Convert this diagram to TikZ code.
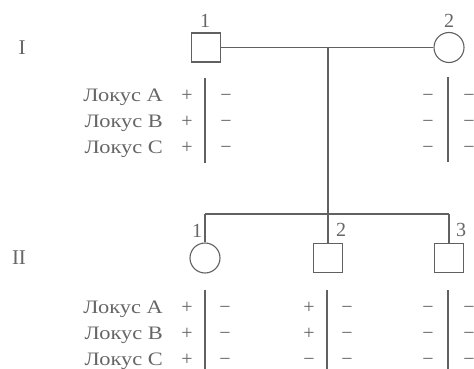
\documentclass[tikz,border=0pt]{standalone}
\usepackage{fontspec}
\setmainfont{Liberation Serif}
\newfontfamily\locfont[FakeStretch=1.18]{Liberation Serif}
\definecolor{linegray}{gray}{0.38}
\definecolor{txtgray}{gray}{0.4}
\begin{document}
\begin{tikzpicture}[x=1pt,y=-1pt,
  ln/.style={draw=linegray, line width=1.1pt},
  male/.style={ln, rectangle, minimum size=29pt, inner sep=0pt},
  female/.style={ln, circle, minimum size=30pt, inner sep=0pt},
  lbl/.style={text=txtgray, font=\fontsize{20}{22}\selectfont, inner sep=0pt},
  gen/.style={lbl, font=\fontsize{21}{23}\selectfont},
  loc/.style={lbl, font=\fontsize{19}{21}\selectfont\locfont, anchor=base east},
  sgn/.style={lbl, anchor=base}]
\useasboundingbox (0,0) rectangle (474,369);

% generation labels
\node[gen] (gI) at (22,48) {I};
\node[gen] (gII) at (19,258) {II};

% generation I
\node[male] (i1) at (206,47.5) {};
\node[female] (i2) at (449,47.5) {};
\node[lbl] (n11) at (205,21) {1};
\node[lbl] (n12) at (449,21) {2};
\draw[ln] (i1.east) -- (i2.west);
\coordinate (m) at (328,47.5);
\coordinate (s) at (328,214);
\draw[ln] (m) -- (s);

% sibship
\coordinate (sl) at (205,214);
\coordinate (sr) at (449,214);
\draw[ln] (sl) -- (sr);

% generation II
\node[female] (ii1) at (205,258) {};
\node[male] (ii2) at (328,258) {};
\node[male] (ii3) at (449,258) {};
\draw[ln] (sl) -- (ii1.north);
\draw[ln] (s) -- (ii2.north);
\draw[ln] (sr) -- (ii3.north);
\node[lbl] (n21) at (197,231) {1};
\node[lbl] (n22) at (341,230) {2};
\node[lbl] (n23) at (461,230) {3};

% locus tables generation I
\coordinate (b1t) at (205,78);  \coordinate (b1b) at (205,163);
\coordinate (b2t) at (448,77);  \coordinate (b2b) at (448,162);
\draw[ln] (b1t) -- (b1b);
\draw[ln] (b2t) -- (b2b);
\node[loc] (la1) at (163,101) {Локус A};
\node[loc] (lb1) at (163,127) {Локус B};
\node[loc] (lc1) at (163,153) {Локус C};
\node[sgn] (a1l) at (187,101) {+};
\node[sgn] (b1l) at (187,127) {+};
\node[sgn] (c1l) at (187,153) {+};
\node[sgn] (a1r) at (226,101) {−};
\node[sgn] (b1r) at (226,127) {−};
\node[sgn] (c1r) at (226,153) {−};
\node[sgn] (a2l) at (428,101) {−};
\node[sgn] (b2l) at (428,127) {−};
\node[sgn] (c2l) at (428,153) {−};
\node[sgn] (a2r) at (469,101) {−};
\node[sgn] (b2r) at (469,127) {−};
\node[sgn] (c2r) at (469,153) {−};

% locus tables generation II
\coordinate (d1t) at (205,290); \coordinate (d1b) at (205,369);
\coordinate (d2t) at (327,290); \coordinate (d2b) at (327,369);
\coordinate (d3t) at (448,290); \coordinate (d3b) at (448,369);
\draw[ln] (d1t) -- (d1b);
\draw[ln] (d2t) -- (d2b);
\draw[ln] (d3t) -- (d3b);
\node[loc] (la2) at (163,313) {Локус A};
\node[loc] (lb2) at (163,339) {Локус B};
\node[loc] (lc2) at (163,365) {Локус C};
\node[sgn] (p1a) at (187,313) {+};
\node[sgn] (p1b) at (187,339) {+};
\node[sgn] (p1c) at (187,365) {+};
\node[sgn] (q1a) at (225,313) {−};
\node[sgn] (q1b) at (225,339) {−};
\node[sgn] (q1c) at (225,365) {−};
\node[sgn] (p2a) at (309,313) {+};
\node[sgn] (p2b) at (309,339) {+};
\node[sgn] (p2c) at (309,365) {−};
\node[sgn] (q2a) at (347,313) {−};
\node[sgn] (q2b) at (347,339) {−};
\node[sgn] (q2c) at (347,365) {−};
\node[sgn] (p3a) at (428,313) {−};
\node[sgn] (p3b) at (428,339) {−};
\node[sgn] (p3c) at (428,365) {−};
\node[sgn] (q3a) at (469,313) {−};
\node[sgn] (q3b) at (469,339) {−};
\node[sgn] (q3c) at (469,365) {−};
\end{tikzpicture}
\end{document}
